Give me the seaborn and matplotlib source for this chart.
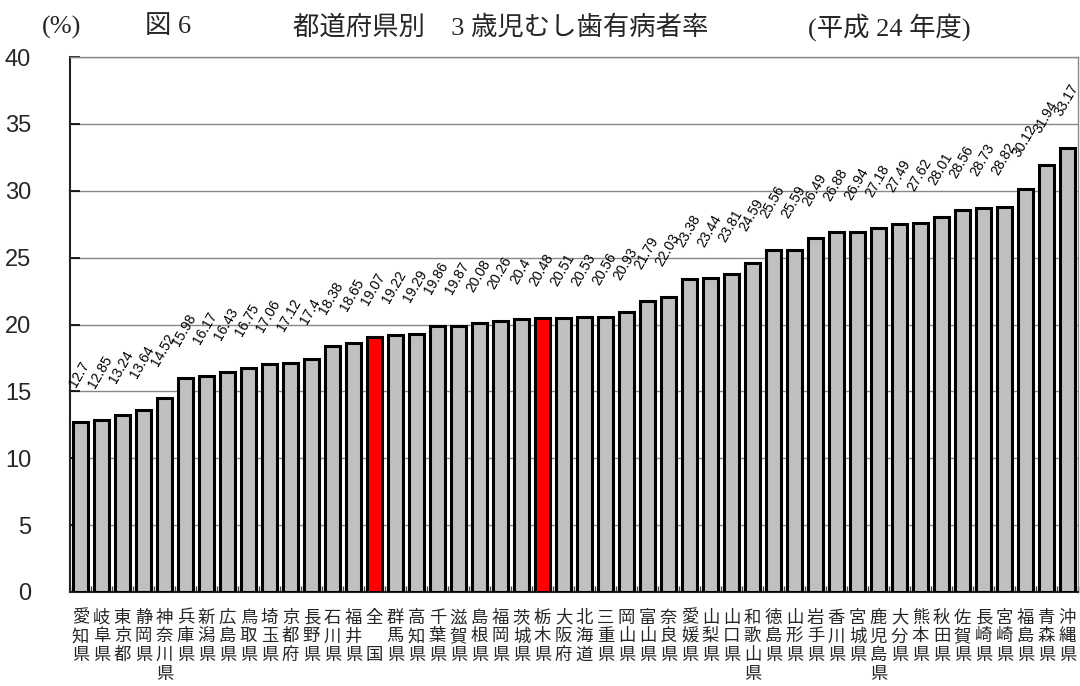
import matplotlib
matplotlib.use("Agg")
import matplotlib.pyplot as plt
import seaborn as sns
import pandas as pd
from matplotlib.ticker import MultipleLocator, FixedLocator

# 都道府県別 3歳児むし歯有病者率（平成24年度）
prefectures = [
    "愛知県", "岐阜県", "東京都", "静岡県", "神奈川県", "兵庫県", "新潟県", "広島県",
    "鳥取県", "埼玉県", "京都府", "長野県", "石川県", "福井県", "全国", "群馬県",
    "高知県", "千葉県", "滋賀県", "島根県", "福岡県", "茨城県", "栃木県", "大阪府",
    "北海道", "三重県", "岡山県", "富山県", "奈良県", "愛媛県", "山梨県", "山口県",
    "和歌山県", "徳島県", "山形県", "岩手県", "香川県", "宮城県", "鹿児島県", "大分県",
    "熊本県", "秋田県", "佐賀県", "長崎県", "宮崎県", "福島県", "青森県", "沖縄県",
]
rates = [
    12.7, 12.85, 13.24, 13.64, 14.52, 15.98, 16.17, 16.43,
    16.75, 17.06, 17.12, 17.4, 18.38, 18.65, 19.07, 19.22,
    19.29, 19.86, 19.87, 20.08, 20.26, 20.4, 20.48, 20.51,
    20.53, 20.56, 20.93, 21.79, 22.03, 23.38, 23.44, 23.81,
    24.59, 25.56, 25.59, 26.49, 26.88, 26.94, 27.18, 27.49,
    27.62, 28.01, 28.56, 28.73, 28.82, 30.12, 31.94, 33.17,
]
highlighted = ["全国", "栃木県"]
y_ticks = [0, 5, 10, 15, 20, 25, 30, 35, 40]

df = pd.DataFrame({"pref": prefectures, "rate": rates})
palette = {p: ("#FF0000" if p in highlighted else "#C0C0C0") for p in prefectures}


def vertical_label(name):
    # two-character names keep the last glyph on the third row
    if len(name) == 2:
        return name[0] + "\n\u3000\n" + name[1]
    return "\n".join(name)


sns.set_theme(style="white")
plt.rcParams["font.family"] = ["Liberation Sans", "Noto Sans CJK JP", "DejaVu Sans"]

fig = plt.figure(figsize=(10.8, 6.86), dpi=100)
ax = fig.add_axes([70 / 1080, 1 - 592 / 686, 1008 / 1080, 535 / 686])

sns.barplot(data=df, x="pref", y="rate", hue="pref", palette=palette,
            legend=False, width=0.7, edgecolor="black", linewidth=2.2,
            saturation=1, ax=ax, zorder=3)

ax.set_xlim(-0.5, len(prefectures) - 0.5)
ax.set_ylim(0, 40)
ax.yaxis.set_major_locator(FixedLocator(y_ticks))
ax.grid(axis="y", color="#888888", linewidth=1.0, zorder=0)
ax.set_axisbelow(True)

for side in ["left", "bottom"]:
    ax.spines[side].set_color("#222222")
    ax.spines[side].set_linewidth(1.5)
for side in ["top", "right"]:
    ax.spines[side].set_color("#888888")
    ax.spines[side].set_linewidth(1.0)

ax.set_xlabel("")
ax.set_ylabel("")
ax.tick_params(axis="y", direction="in", length=7, width=1.2, color="black",
               labelsize=17, pad=28, left=True)
ax.set_yticklabels([str(t) for t in y_ticks], fontsize=17)

# category boundary ticks along the bottom
ax.xaxis.set_minor_locator(MultipleLocator(1, offset=0.5))
ax.tick_params(axis="x", which="minor", direction="in", length=4, width=1, color="#444444", bottom=True)
ax.tick_params(axis="x", which="major", length=0, pad=12)
ax.set_xticks(range(len(prefectures)))
ax.set_xticklabels([vertical_label(p) for p in prefectures], fontsize=12.5,
                   family=["Noto Sans CJK JP", "DejaVu Sans"], linespacing=1.05, va="top")

# value labels
for i, v in enumerate(rates):
    ax.annotate(f"{v:g}", xy=(i, v), xytext=(-1, 48), textcoords="offset pixels",
                rotation=60, rotation_mode="anchor", ha="center", va="center",
                fontsize=10, color="black", annotation_clip=False)

# header line
title_family = ["Liberation Serif", "Noto Sans CJK JP", "DejaVu Sans"]
fy = 1 - 27 / 686
fig.text(42 / 1080, fy, "(%)", fontsize=19, family=title_family, va="center")
fig.text(145 / 1080, fy, "図 6", fontsize=19, family=title_family, va="center")
fig.text(293 / 1080, fy, "都道府県別\u30003 歳児むし歯有病者率", fontsize=19, family=title_family, va="center")
fig.text(808 / 1080, fy, "(平成 24 年度)", fontsize=19, family=title_family, va="center")

fig.savefig("out.png", dpi=100)
